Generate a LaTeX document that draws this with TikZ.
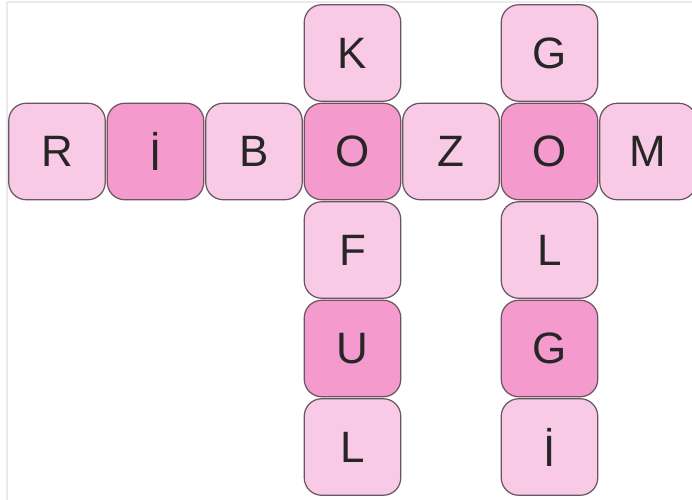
\documentclass[tikz,border=0pt]{standalone}
\usepackage{fontspec}
\setmainfont{Liberation Sans}
\usepackage{xcolor}
\definecolor{tile-light}{HTML}{F9CAE5}
\definecolor{tile-dark}{HTML}{F49ACC}
\definecolor{tile-edge}{HTML}{6A5560}
\definecolor{frame-grey}{HTML}{EAEAEA}

\tikzset{
    tile/.style={draw=tile-edge, line width=0.7pt, rounded corners=0.35cm, minimum size=1.93cm, inner sep=0pt, fill=tile-light, text=black!85, font=\fontsize{25}{30}\selectfont},
    tiledark/.style={tile, fill=tile-dark}
}

\begin{document}
\begin{tikzpicture}
    \useasboundingbox (0, 0) rectangle (13.84, -10);
    \clip (0, 0) rectangle (13.84, -10);
    \fill[white] (0, 0) rectangle (13.84, -10);
    \draw[frame-grey, line width=0.8pt] (0.14, -10) -- (0.14, -0.04) -- (13.84, -0.04);
    % ribozom
    \node[tile] (rib1) at (1.14, -3.03) {R};
    \node[tiledark] (rib2) at (3.11, -3.03) {İ};
    \node[tile] (rib3) at (5.08, -3.03) {B};
    \node[tiledark] (rib4) at (7.05, -3.03) {O};
    \node[tile] (rib5) at (9.02, -3.03) {Z};
    \node[tiledark] (rib6) at (10.99, -3.03) {O};
    \node[tile] (rib7) at (12.96, -3.03) {M};
    % koful
    \node[tile] (kof1) at (7.05, -1.06) {K};
    \node[tile] (kof3) at (7.05, -5.00) {F};
    \node[tiledark] (kof4) at (7.05, -6.97) {U};
    \node[tile] (kof5) at (7.05, -8.94) {L};
    % golgi
    \node[tile] (gol1) at (10.99, -1.06) {G};
    \node[tile] (gol3) at (10.99, -5.00) {L};
    \node[tiledark] (gol4) at (10.99, -6.97) {G};
    \node[tile] (gol5) at (10.99, -8.94) {İ};
\end{tikzpicture}
\end{document}
